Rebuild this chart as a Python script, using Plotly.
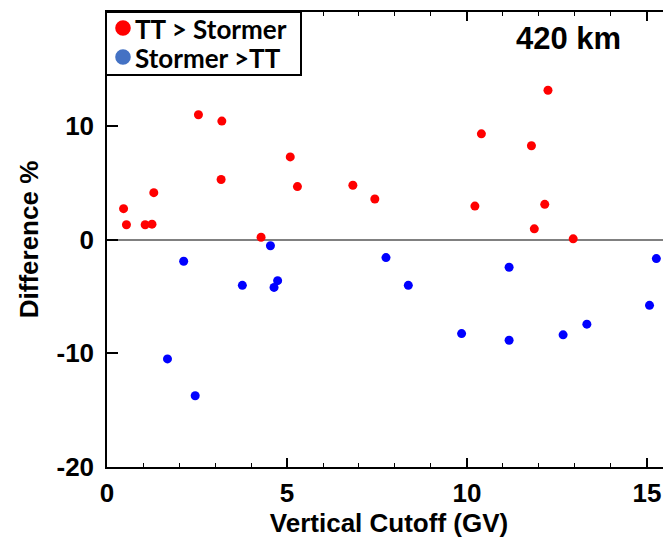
import plotly.graph_objects as go

# TT > Stormer (red)
red_x = [0.46, 0.54, 1.06, 1.25, 1.30, 2.54, 3.19, 3.17, 4.28, 5.09, 5.29,
         6.83, 7.44, 10.22, 10.40, 11.79, 11.87, 12.16, 12.25, 12.95]
red_y = [2.71, 1.30, 1.30, 1.35, 4.12, 10.97, 10.41, 5.27, 0.20, 7.26, 4.65,
         4.77, 3.56, 2.94, 9.29, 8.24, 0.94, 3.09, 13.12, 0.06]

# Stormer > TT (blue)
blue_x = [1.68, 2.13, 2.45, 3.76, 4.54, 4.64, 4.74, 7.75, 8.37, 9.85,
          11.17, 11.17, 12.67, 13.33, 15.07, 15.26]
blue_y = [-10.50, -1.91, -13.74, -4.03, -0.55, -4.21, -3.62, -1.59, -4.03, -8.27,
          -2.44, -8.86, -8.38, -7.44, -5.79, -1.68]

legend_names = ["TT > Stormer", "Stormer >TT"]
legend_colors = ["#ff0000", "#4472c4"]
x_ticks = [0, 5, 10, 15]
x_ticktext = ["0", "5", "10", "15"]
y_ticks = [-20, -10, 0, 10, 20]
y_ticktext = ["-20", "-10", "0", "10", "20"]

AX_FONT = dict(family="Liberation Sans, Arial, sans-serif", size=26, color="black", weight="bold")
LEG_FONT = dict(family="Lato, sans-serif", size=26, color="black", weight="bold")

fig = go.Figure()
fig.add_trace(go.Scatter(x=red_x, y=red_y, mode="markers", name=legend_names[0],
                         showlegend=False, marker=dict(color="#ff0000", size=9)))
fig.add_trace(go.Scatter(x=blue_x, y=blue_y, mode="markers", name=legend_names[1],
                         showlegend=False, marker=dict(color="#0000ff", size=9)))

# Plot area in page pixels: x 107..671, y 12..467 (page body has an 8px margin)
def px_x(p):
    return (p - 107) / 564.0

def px_y(p):
    return (467 - p) / 455.0

shapes = [
    dict(type="rect", xref="paper", yref="paper", x0=px_x(106), x1=px_x(301),
         y0=px_y(75), y1=px_y(12), line=dict(color="black", width=2), fillcolor="white",
         layer="above"),
]
annotations = []
row_y = [28, 57]
for name, col, ry in zip(legend_names, legend_colors, row_y):
    shapes.append(dict(type="circle", xref="paper", yref="paper",
                       x0=px_x(115.2), x1=px_x(130.8), y0=px_y(ry + 7.8), y1=px_y(ry - 7.8),
                       fillcolor=col, line=dict(width=0), layer="above"))
    annotations.append(dict(text=name, xref="paper", yref="paper", x=px_x(133),
                            y=px_y(ry + 1), xanchor="left", yanchor="middle",
                            showarrow=False, font=LEG_FONT))

annotations.append(dict(text="420 km", xref="paper", yref="paper", x=px_x(568), y=px_y(38),
                        showarrow=False, xanchor="center", yanchor="middle",
                        font=dict(family="Liberation Sans, Arial, sans-serif", size=31,
                                  color="black", weight="bold")))

fig.update_layout(
    width=663, height=531,
    margin=dict(l=99, r=0, t=4, b=72, autoexpand=False),
    paper_bgcolor="white", plot_bgcolor="white",
    showlegend=False,
    shapes=shapes, annotations=annotations,
)

fig.update_xaxes(
    range=[0, 15.667], tickvals=x_ticks, ticktext=x_ticktext, ticks="inside", ticklen=9,
    tickwidth=1.5, tickcolor="black", showline=True, linecolor="black", linewidth=1.5,
    mirror="ticks", showgrid=False, zeroline=False, tickfont=AX_FONT, ticklabelstandoff=2,
    minor=dict(dtick=1, ticks="inside", ticklen=4, tickwidth=1.2, tickcolor="black", showgrid=False),
    title=dict(text="Vertical Cutoff (GV)", font=AX_FONT, standoff=7),
)
fig.update_yaxes(
    range=[-20, 20], tickvals=y_ticks, ticktext=y_ticktext, ticks="inside", ticklen=11,
    tickwidth=1.5, tickcolor="black", showline=True, linecolor="black", linewidth=1.5,
    mirror=False, showgrid=False, zeroline=True, zerolinecolor="#808080", zerolinewidth=2,
    tickfont=AX_FONT, ticklabelstandoff=6,
    title=dict(text="Difference %", font=AX_FONT, standoff=10),
)

fig.write_html("out.html")
